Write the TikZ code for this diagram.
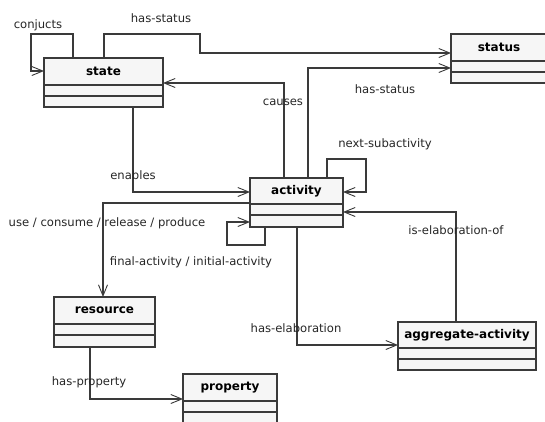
\documentclass[tikz,border=0pt]{standalone}
\usepackage{fontspec}
\setmainfont{DejaVu Sans}
\usetikzlibrary{arrows.meta,calc}
\definecolor{umlline}{HTML}{3A3A3A}
\definecolor{umlfill}{HTML}{F6F6F6}
\tikzset{
  classbox/.style={draw=umlline, fill=umlfill, line width=1.2pt, inner sep=0pt, outer sep=0pt},
  classline/.style={draw=umlline, line width=1.2pt},
  classtitle/.style={font=\fontsize{12}{14}\selectfont\bfseries, text=black, inner sep=0pt},
  assoc/.style={draw=umlline, line width=1.1pt, -{Straight Barb[length=11pt,width=9pt,line width=0.9pt]}},
  rolelabel/.style={font=\fontsize{11.6}{13}\selectfont, text=black!85, inner sep=0pt}
}
% a UML class box: name, left, top, width, height, header height, compartment height, title
\newcommand\umlclass[8]{%
  \node[classbox, minimum width=#4pt, minimum height=#5pt, anchor=north west] (#1) at (#2,#3) {};
  \draw[classline] ($(#1.north west)+(0,#6)$) -- ++(#4,0);
  \draw[classline] ($(#1.north west)+(0,#6+#7)$) -- ++(#4,0);
  \node[classtitle] (#1-title) at ($(#1.north)+(0,#6/2)$) {#8};
}
\begin{document}
\begin{tikzpicture}[x=1pt,y=-1pt]
\useasboundingbox[fill=white] (0,0) rectangle (545,421);

% classes
\umlclass{state}{44}{58}{119}{49}{27}{11}{state}
\umlclass{status}{451}{34}{96}{49}{27}{11}{status}
\umlclass{activity}{250}{178}{93}{49}{26}{11}{activity}
\umlclass{aggregate}{398}{322}{138}{48}{26}{11}{aggregate-activity}
\umlclass{resource}{54}{297}{101}{50}{27}{11}{resource}
\umlclass{property}{183}{374}{94}{50}{27}{11}{property}

% associations
\draw[assoc] (73,0 |- state.north) -- (73,34) -- (31,34) -- (31,71) -- (state.west |- 0,71);
\draw[assoc] (104,0 |- state.north) -- (104,34) -- (200,34) -- (200,53) -- (status.west |- 0,53);
\draw[assoc] (284,0 |- activity.north) -- (284,83) -- (state.east |- 0,83);
\draw[assoc] (308,0 |- activity.north) -- (308,68) -- (status.west |- 0,68);
\draw[assoc] (327,0 |- activity.north) -- (327,159) -- (366,159) -- (366,192) -- (activity.east |- 0,192);
\draw[assoc] (456,0 |- aggregate.north) -- (456,212) -- (activity.east |- 0,212);
\draw[assoc] (297,0 |- activity.south) -- (297,345) -- (aggregate.west |- 0,345);
\draw[assoc] (133,0 |- state.south) -- (133,192) -- (activity.west |- 0,192);
\draw[assoc] (activity.west |- 0,203) -- (103,203) -- (103,0 |- resource.north);
\draw[assoc] (265,0 |- activity.south) -- (265,245) -- (227,245) -- (227,222) -- (activity.west |- 0,222);
\draw[assoc] (90,0 |- resource.south) -- (90,399) -- (property.west |- 0,399);

% association labels
\node[rolelabel] (l-conj) at (38,25) {conjucts};
\node[rolelabel] (l-hs1) at (161,18) {has-status};
\node[rolelabel] (l-causes) at (283,102) {causes};
\node[rolelabel] (l-hs2) at (385,89) {has-status};
\node[rolelabel] (l-next) at (385,144) {next-subactivity};
\node[rolelabel] (l-enables) at (133,175) {enables};
\node[rolelabel] (l-use) at (107,223) {use / consume / release / produce};
\node[rolelabel] (l-final) at (191,262) {final-activity / initial-activity};
\node[rolelabel] (l-iselab) at (456,230) {is-elaboration-of};
\node[rolelabel] (l-haselab) at (296,328) {has-elaboration};
\node[rolelabel] (l-prop) at (89,382) {has-property};
\end{tikzpicture}
\end{document}
